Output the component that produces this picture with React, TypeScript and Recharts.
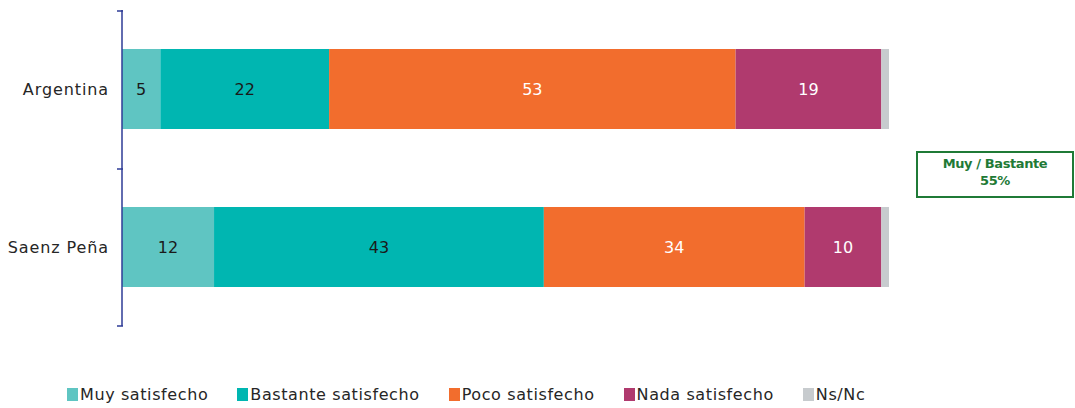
import { BarChart, Bar, XAxis, YAxis, Legend, LabelList } from 'recharts';

const CATEGORIES = ['Argentina', 'Saenz Peña'];
const MUY = [5, 12];
const BASTANTE = [22, 43];
const POCO = [53, 34];
const NADA = [19, 10];
const NSNC = [1, 1];

const SERIES = [
  { key: 'muy', name: 'Muy satisfecho', values: MUY, color: '#5fc5c2', label: '#1a1a1a' },
  { key: 'bastante', name: 'Bastante satisfecho', values: BASTANTE, color: '#00b6b1', label: '#1a1a1a' },
  { key: 'poco', name: 'Poco satisfecho', values: POCO, color: '#f26d2d', label: '#ffffff' },
  { key: 'nada', name: 'Nada satisfecho', values: NADA, color: '#b03a6e', label: '#ffffff' },
  { key: 'nsnc', name: 'Ns/Nc', values: NSNC, color: '#c7cbce', label: null },
];

const data = CATEGORIES.map((name, i) => {
  const row: Record<string, string | number> = { name };
  SERIES.forEach((s) => {
    row[s.key] = s.values[i];
  });
  return row;
});

// "Muy / Bastante" total for Saenz Peña
const highlightPct = MUY[1] + BASTANTE[1];

const WIDTH = 1075;
const HEIGHT = 408;
const MARGIN = { top: 10, right: 186, left: 0, bottom: 52 };
const AXIS_COLOR = '#2e3b96';
const FONT = '"DejaVu Sans", sans-serif';

/** Category label plus tick marks on the band edges, like the source. */
function CategoryTick(props: any) {
  const { x, y, payload, index } = props;
  const band = 158;
  return (
    <g>
      <line x1={x + 3} x2={x + 9} y1={y - band / 2 + 1} y2={y - band / 2 + 1} stroke={AXIS_COLOR} strokeWidth={1.5} />
      {index === CATEGORIES.length - 1 && (
        <line x1={x + 3} x2={x + 9} y1={y + band / 2} y2={y + band / 2} stroke={AXIS_COLOR} strokeWidth={1.5} />
      )}
      <text x={x - 5} y={y} dy={6} textAnchor="end" fill="#262626" fontSize={16} fontFamily={FONT} letterSpacing={0.9}>
        {payload.value}
      </text>
    </g>
  );
}

function LegendContent(props: any) {
  const order = SERIES.map((s) => s.name);
  const payload = [...(props.payload || [])].sort(
    (a: any, b: any) => order.indexOf(a.value) - order.indexOf(b.value)
  );
  return (
    <div style={{ display: 'flex', paddingLeft: 67, fontFamily: FONT, fontSize: 16, color: '#262626' }}>
      {payload.map((e: any) => (
        <span key={e.value} style={{ display: 'flex', alignItems: 'center', marginRight: 29 }}>
          <span style={{ width: 11, height: 13, background: e.color, marginRight: 2 }} />
          <span style={{ letterSpacing: 0.6 }}>{e.value}</span>
        </span>
      ))}
    </div>
  );
}

export default function App() {
  return (
    <div style={{ position: 'absolute', left: 0, top: 0, width: WIDTH, height: HEIGHT, background: '#fff' }}>
      <BarChart width={WIDTH} height={HEIGHT} data={data} layout="vertical" margin={MARGIN} barSize={80}>
        <XAxis type="number" domain={[0, 100]} hide />
        <YAxis
          type="category"
          dataKey="name"
          width={122}
          axisLine={{ stroke: AXIS_COLOR, strokeWidth: 1.5 }}
          tickLine={false}
          tick={<CategoryTick />}
        />
        <Legend
          verticalAlign="bottom"
          height={30}
          content={<LegendContent />}
          wrapperStyle={{ top: 385, bottom: 'auto', left: 0, width: WIDTH }}
        />
        {SERIES.map((s) => (
          <Bar key={s.key} dataKey={s.key} name={s.name} stackId="a" fill={s.color} isAnimationActive={false}>
            {s.label && (
              <LabelList dataKey={s.key} position="center" fill={s.label} fontSize={16} fontFamily={FONT} />
            )}
          </Bar>
        ))}
      </BarChart>
      <div
        style={{
          position: 'absolute',
          left: 916,
          top: 151,
          width: 154,
          height: 40,
          border: '2px solid #1f7a36',
          color: '#1f7a36',
          fontFamily: FONT,
          fontWeight: 'bold',
          fontSize: 13,
          lineHeight: '17px',
          textAlign: 'center',
          paddingTop: 3,
          boxSizing: 'content-box',
          letterSpacing: -0.4,
        }}
      >
        <div style={{ marginTop: -1 }}>Muy / Bastante</div>
        <div>{highlightPct}%</div>
      </div>
    </div>
  );
}
